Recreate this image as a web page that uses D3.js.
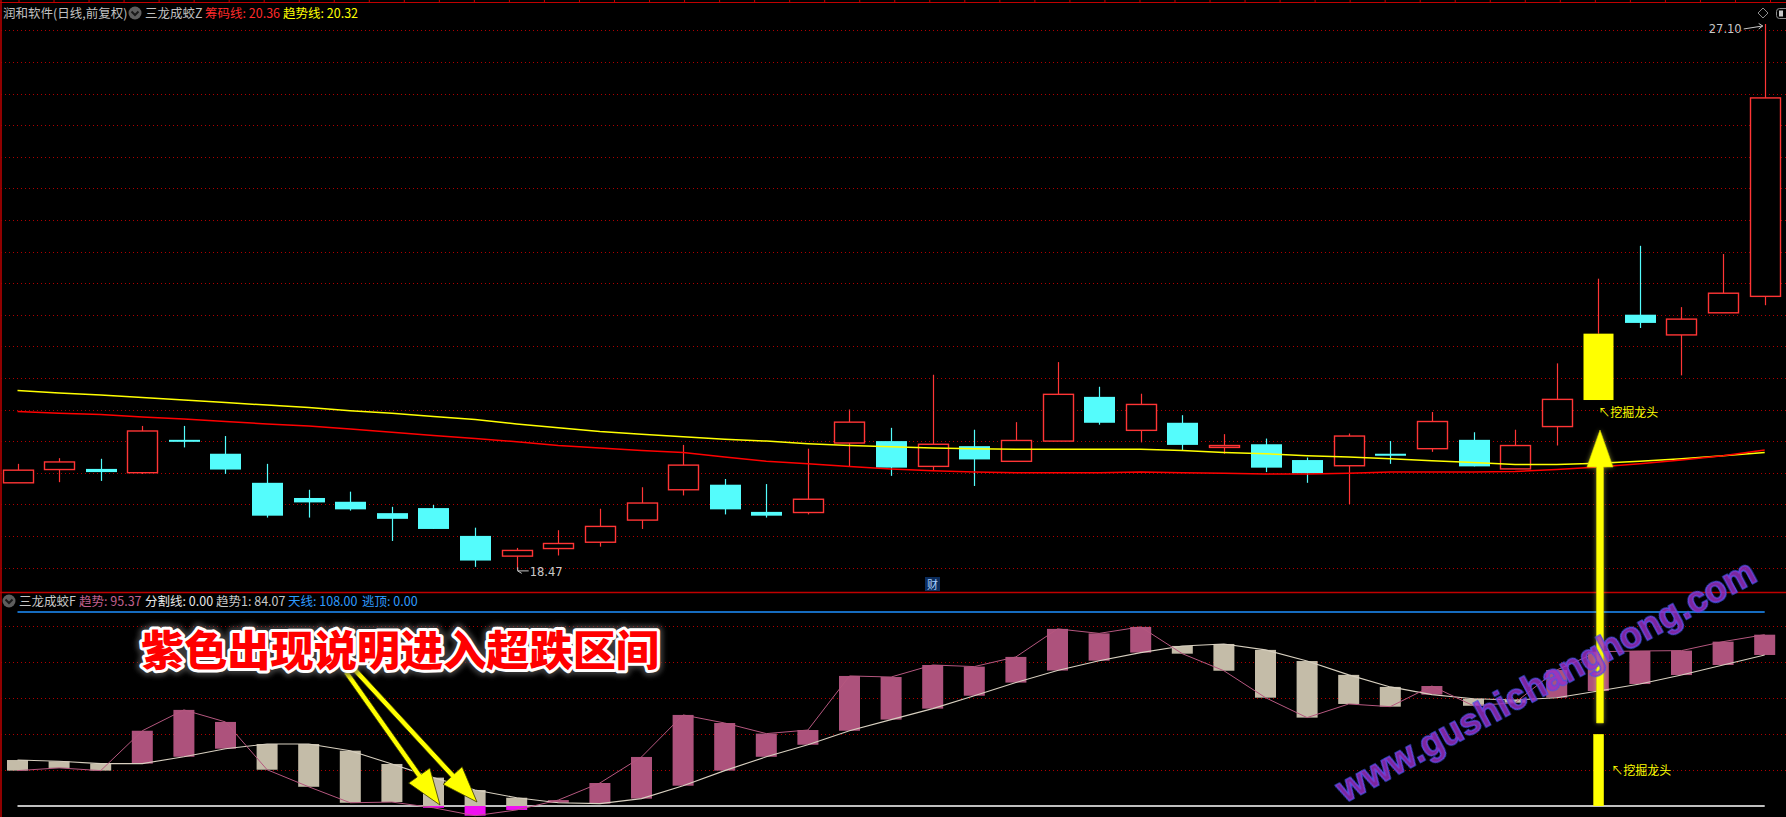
<!DOCTYPE html>
<html><head><meta charset="utf-8">
<script src="https://cdn.jsdelivr.net/npm/d3@7/dist/d3.min.js"></script>
<style>html,body{margin:0;padding:0;background:#000;overflow:hidden}svg{display:block}</style>
</head><body>
<svg id="c" width="1786" height="817"></svg>
<script>
// ---- upper panel: daily K-line (润和软件, 前复权) ----
const opens  = [19.84,20.05,20.06,20.00,20.52,20.30,19.84,19.60,19.54,19.36,19.44,19.00,18.68,18.80,18.90,19.25,19.73,19.81,19.38,19.37,20.47,20.50,20.10,20.42,20.18,20.50,21.20,20.67,20.79,20.40,20.45,20.20,20.11,20.30,20.38,20.52,20.06,20.73,21.15,22.50,22.18,22.53,22.79];
const highs  = [20.14,20.23,20.22,20.74,20.74,20.58,20.14,19.73,19.70,19.46,19.49,19.13,18.81,19.09,19.43,19.77,20.44,19.90,19.82,20.38,21.00,20.71,21.55,20.68,20.80,21.75,21.36,21.25,20.91,20.61,20.54,20.24,20.62,20.50,20.96,20.64,20.68,21.73,23.07,23.59,22.62,23.46,27.10];
const lows   = [19.84,19.85,19.87,19.98,20.40,19.98,19.29,19.29,19.40,18.92,19.11,18.51,18.47,18.69,18.83,19.11,19.64,19.34,19.29,19.34,20.10,19.95,20.03,19.79,20.18,20.50,20.76,20.48,20.36,20.30,20.01,19.84,19.50,20.14,20.33,20.10,20.06,20.43,21.15,22.29,21.54,22.53,22.65];
const closes = [20.04,20.17,20.01,20.66,20.51,20.05,19.32,19.53,19.42,19.27,19.11,18.61,18.77,18.88,19.15,19.52,20.12,19.42,19.32,19.58,20.80,20.08,20.45,20.21,20.51,21.24,20.79,21.08,20.44,20.43,20.08,19.99,20.58,20.29,20.81,20.10,20.43,21.16,22.20,22.37,22.43,22.84,25.93];
// 趋势线 (yellow) and 筹码线 (red)
const trendLine = [21.30,21.26,21.23,21.19,21.15,21.11,21.07,21.03,20.98,20.94,20.89,20.84,20.77,20.71,20.65,20.61,20.57,20.53,20.50,20.46,20.43,20.41,20.39,20.38,20.37,20.37,20.37,20.37,20.35,20.32,20.30,20.27,20.25,20.22,20.19,20.16,20.13,20.13,20.15,20.18,20.22,20.27,20.32];
const chipLine  = [20.97,20.94,20.92,20.88,20.85,20.81,20.77,20.74,20.69,20.64,20.59,20.54,20.49,20.43,20.39,20.35,20.32,20.25,20.18,20.14,20.10,20.06,20.03,20.01,20.00,20.00,20.00,20.01,20.00,19.99,19.98,19.98,19.99,20.01,20.01,20.01,20.02,20.05,20.09,20.14,20.20,20.27,20.36];
const priceGrid = [18.5,19,19.5,20,20.5,21,21.5,22,22.5,23,23.5,24,24.5,25,25.5,26,26.5,27];
const signalIdx = [38];
// ---- lower panel: 三龙成蛟F ----
const trendF  = [19.7,21.2,19.7,41.9,53.5,46.8,20.2,10.7,1.8,2.2,-1.0,-5.4,-2.2,3.3,12.8,27.3,50.7,46.2,40.3,42.3,72.4,71.8,78.5,77.6,83.0,98.6,96.1,99.7,84.8,75.3,60.3,49.2,56.8,55.3,66.8,55.8,57.5,75.7,85.9,86.3,86.5,91.5,95.37];
const trendF1 = [25.6,24.9,23.6,23.6,27.4,31.9,34.5,34.5,30.8,23.4,15.8,8.9,4.6,1.8,1.3,4.1,11.3,19.7,27.4,34.1,41.9,48.1,54.2,61.4,68.7,75.4,80.9,85.4,89.1,90.2,86.9,80.7,73.0,66.3,62.0,59.7,59.0,60.3,64.0,67.9,72.9,78.5,84.07];
const lowerGrid = [20,40,60,80,100];
const skyLine = 108, splitLine = 0, signalBar = 40;

const W = 1786, H = 817;
const svg = d3.select('#c');
svg.append('rect').attr('width', W).attr('height', H).attr('fill', '#000');

const defs = svg.append('defs');
const glow = defs.append('filter').attr('id','glow').attr('x','-20%').attr('y','-20%').attr('width','140%').attr('height','140%');
glow.append('feGaussianBlur').attr('stdDeviation', 2.5);
const blur1 = defs.append('filter').attr('id','soft');
blur1.append('feGaussianBlur').attr('stdDeviation', 0.5);

const idx = d3.range(opens.length);
const x = d3.scaleLinear().domain([0, opens.length - 1]).range([17.5, 1764.7]);
const yP = d3.scaleLinear().domain([18.5, 27]).range([567.5, 30.3]);
const yF = d3.scaleLinear().domain([0, 108]).range([806, 612]);

const FONT = '"Noto Sans CJK SC","DejaVu Sans",sans-serif';

// ---- borders ----
svg.append('line').attr('x1',0).attr('x2',W).attr('y1',2.5).attr('y2',2.5).attr('stroke','#c00000').attr('stroke-width',1.2);
svg.append('g').selectAll('line').data(d3.range(0, 51)).join('line')
  .attr('x1', k => 19 + 35.03 * k).attr('x2', k => 19 + 35.03 * k)
  .attr('y1', 0).attr('y2', 3).attr('stroke', '#c00000');
svg.append('line').attr('x1',1).attr('x2',1).attr('y1',0).attr('y2',H).attr('stroke','#c00000').attr('stroke-width',1.5);
svg.append('line').attr('x1',0).attr('x2',W).attr('y1',592.5).attr('y2',592.5).attr('stroke','#c00000').attr('stroke-width',1.5);

// ---- grids via axes ----
function grid(scale, vals) {
  const g = svg.append('g').attr('transform', `translate(${W},0)`)
    .call(d3.axisLeft(scale).tickValues(vals).tickSize(W).tickFormat(''));
  g.select('.domain').remove();
  g.selectAll('line').attr('stroke', '#b00000').attr('stroke-dasharray', '1,3').attr('shape-rendering','crispEdges');
}
grid(yP, priceGrid);
grid(yF, lowerGrid);

// ---- candles ----
const BW = 30;
const cg = svg.append('g');
const cdata = idx.map(i => ({i, o: opens[i], h: highs[i], l: lows[i], c: closes[i], sig: signalIdx.includes(i)}));
const RED = '#ff3535', CYAN = '#54fcfc';
cdata.forEach(d => {
  const cx = Math.round(x(d.i)) + 0.5;
  const up = d.c >= d.o;
  const top = yP(Math.max(d.o, d.c)), bot = yP(Math.min(d.o, d.c));
  if (d.sig) {
    cg.append('line').attr('x1',cx).attr('x2',cx).attr('y1',yP(d.h)).attr('y2',top).attr('stroke',RED).attr('stroke-width',1.2);
    cg.append('rect').attr('x', cx - BW/2).attr('y', top).attr('width', BW).attr('height', bot - top).attr('fill', '#ffff00');
  } else if (up) {
    cg.append('line').attr('x1',cx).attr('x2',cx).attr('y1',yP(d.h)).attr('y2',top).attr('stroke',RED).attr('stroke-width',1.2);
    cg.append('line').attr('x1',cx).attr('x2',cx).attr('y1',bot).attr('y2',yP(d.l)).attr('stroke',RED).attr('stroke-width',1.2);
    cg.append('rect').attr('x', cx - BW/2).attr('y', top).attr('width', BW).attr('height', Math.max(bot - top, 1))
      .attr('fill', '#000').attr('stroke', RED).attr('stroke-width', 1.4);
  } else {
    cg.append('line').attr('x1',cx).attr('x2',cx).attr('y1',yP(d.h)).attr('y2',yP(d.l)).attr('stroke',CYAN).attr('stroke-width',1.2);
    cg.append('rect').attr('x', cx - BW/2 - 0.5).attr('y', top).attr('width', BW + 1).attr('height', Math.max(bot - top, 2))
      .attr('fill', CYAN);
  }
});

// ---- moving lines ----
const lineP = arr => d3.line().x((v, i) => x(i)).y(v => yP(v))(arr);
svg.append('path').attr('d', lineP(trendLine)).attr('fill','none').attr('stroke','#ffff00').attr('stroke-width',1.5);
svg.append('path').attr('d', lineP(chipLine)).attr('fill','none').attr('stroke','#ff0000').attr('stroke-width',1.5);

// ---- price extreme labels ----
const hiI = highs.indexOf(d3.max(highs)), loI = lows.indexOf(d3.min(lows));
const hx = x(hiI), hy = yP(highs[hiI]);
svg.append('text').attr('x', hx - 23).attr('y', hy + 9.5).attr('text-anchor','end').attr('fill','#c8c8c8')
  .attr('font-family', '"DejaVu Sans",sans-serif').attr('font-size', 11.5).text(d3.format('.2f')(highs[hiI]));
svg.append('path').attr('d', `M${hx-21},${hy+5} L${hx-2},${hy+2} M${hx-6},${hy-0.5} L${hx-2},${hy+2} L${hx-6},${hy+5}`)
  .attr('stroke','#c8c8c8').attr('fill','none').attr('stroke-width',1);
const lx = x(loI), ly = yP(lows[loI]);
svg.append('path').attr('d', `M${lx+12},${ly+1.5} L${lx+1},${ly+1.5} M${lx+1},${ly-2} L${lx+1},${ly+1.5} L${lx+5},${ly+4}`)
  .attr('stroke','#c8c8c8').attr('fill','none').attr('stroke-width',1);
svg.append('text').attr('x', lx + 13).attr('y', ly + 7).attr('fill','#c8c8c8')
  .attr('font-family', '"DejaVu Sans",sans-serif').attr('font-size', 11.5).text(d3.format('.2f')(lows[loI]));

// 财 badge
svg.append('rect').attr('x', 925).attr('y', 577).attr('width', 15).attr('height', 14).attr('fill', '#0b2c5c');
svg.append('text').attr('x', 932.5).attr('y', 588.5).attr('text-anchor','middle').attr('fill','#a8cfff')
  .attr('font-family', FONT).attr('font-size', 11).text('财');

// top-right icons
svg.append('path').attr('d','M1763,8 L1768,13 L1763,18 L1758,13Z').attr('fill','none').attr('stroke','#8c8c8c');
svg.append('rect').attr('x',1776.5).attr('y',8.5).attr('width',14).attr('height',10).attr('rx',3).attr('fill','none').attr('stroke','#8c8c8c');
svg.append('rect').attr('x',1779).attr('y',10.5).attr('width',4).attr('height',6).attr('fill','#c8c8c8');

// ---- header texts ----
function header(y, items) {
  items.forEach(it => {
    svg.append('text').attr('x', it.x).attr('y', y).attr('fill', it.c)
      .attr('font-family', FONT).attr('font-size', 12.5).text(it.t);
  });
}
function icon(cx, cy) {
  svg.append('circle').attr('cx', cx).attr('cy', cy).attr('r', 6.5).attr('fill', '#5e5e5e');
  svg.append('path').attr('d', `M${cx-3.5},${cy-1.5} L${cx},${cy+2} L${cx+3.5},${cy-1.5}`).attr('fill','none').attr('stroke','#1a1a1a').attr('stroke-width',2);
}
header(18, [
  {x: 3, t: '润和软件(日线,前复权)', c: '#c0c0c0'},
  {x: 145, t: '三龙成蛟Z', c: '#c0c0c0'},
  {x: 205, t: '筹码线: ' + d3.format('.2f')(chipLine[chipLine.length-1]), c: '#ff2a2a'},
  {x: 283, t: '趋势线: ' + d3.format('.2f')(trendLine[trendLine.length-1]), c: '#ffff00'}
]);
icon(135, 13);
header(606, [
  {x: 19, t: '三龙成蛟F', c: '#c8c8c8'},
  {x: 79, t: '趋势: ' + d3.format('.2f')(trendF[trendF.length-1]), c: '#c2608f'},
  {x: 145, t: '分割线: ' + d3.format('.2f')(splitLine), c: '#e8e8e8'},
  {x: 216, t: '趋势1: ' + d3.format('.2f')(trendF1[trendF1.length-1]), c: '#c8c8c8'},
  {x: 288, t: '天线: ' + d3.format('.2f')(skyLine), c: '#2e9bff'},
  {x: 362, t: '逃顶: 0.00', c: '#2e9bff'}
]);
icon(9, 601);

// ---- lower panel ----
svg.append('line').attr('x1', x(0)).attr('x2', x(idx.length-1)).attr('y1', yF(skyLine)).attr('y2', yF(skyLine)).attr('stroke', '#1e90ff').attr('stroke-width', 1.5);
svg.append('line').attr('x1', x(0)).attr('x2', x(idx.length-1)).attr('y1', yF(splitLine)).attr('y2', yF(splitLine)).attr('stroke', '#ffffff').attr('stroke-width', 1.5);

const FW = 21;
const PINK = '#ad527c', BEIGE = '#c4bca8', MAG = '#f010f0';
const fg = svg.append('g');
idx.forEach(i => {
  const t = trendF[i], t1 = trendF1[i];
  const cx = x(i);
  const top = Math.max(t, t1), bot = Math.max(Math.min(t, t1), 0);
  if (top > bot) {
    fg.append('rect').attr('x', cx - FW/2).attr('y', yF(top)).attr('width', FW).attr('height', yF(bot) - yF(top))
      .attr('fill', t >= t1 ? PINK : BEIGE);
  }
  if (t < 0) {
    fg.append('rect').attr('x', cx - FW/2).attr('y', yF(0)).attr('width', FW).attr('height', yF(t) - yF(0)).attr('fill', MAG);
  }
});
const lineF = arr => d3.line().x((v, i) => x(i)).y(v => yF(v))(arr);
svg.append('path').attr('d', lineF(trendF1)).attr('fill','none').attr('stroke','#d8d0c0').attr('stroke-width',1.1);
svg.append('path').attr('d', lineF(trendF)).attr('fill','none').attr('stroke','#b5577f').attr('stroke-width',1);

// signal bar
signalIdx.forEach(i => {
  svg.append('rect').attr('x', x(i) - 5).attr('y', yF(signalBar)).attr('width', 10.5).attr('height', yF(0) - yF(signalBar)).attr('fill', '#ffff00');
  svg.append('text').attr('x', x(i) + 13).attr('y', yF(20) + 5).attr('fill', '#ffff00').attr('font-family', FONT).attr('font-size', 12).text('↖挖掘龙头');
  svg.append('text').attr('x', x(i)).attr('y', yP(Math.min(opens[i], closes[i])) + 17).attr('fill', '#ffff00').attr('font-family', FONT).attr('font-size', 12).text('↖挖掘龙头');
});

// ---- annotation arrows ----
function arrowPts(x1, y1, x2, y2, sw, hl, hw) {
  const dx = x2 - x1, dy = y2 - y1, L = Math.hypot(dx, dy);
  const ux = dx / L, uy = dy / L, px = -uy, py = ux;
  const bx = x2 - ux * hl, by = y2 - uy * hl;
  const p = [
    [x1 + px*sw/2, y1 + py*sw/2], [bx + px*sw/2, by + py*sw/2], [bx + px*hw, by + py*hw], [x2, y2],
    [bx - px*hw, by - py*hw], [bx - px*sw/2, by - py*sw/2], [x1 - px*sw/2, y1 - py*sw/2]
  ];
  return p.map(q => q.join(',')).join(' ');
}
const ag = svg.append('g');
[[346, 672, 440, 805], [355, 670, 477, 802]].forEach(a => {
  ag.append('polygon').attr('points', arrowPts(a[0], a[1], a[2], a[3], 5, 36, 13))
    .attr('fill', '#ffff00').attr('stroke', '#3a3a00').attr('stroke-width', 0.8);
});
// big vertical arrow
const va = [1600, 723, 1600, 430];
svg.append('polygon').attr('points', arrowPts(va[0], va[1], va[2], va[3], 7, 37, 13))
  .attr('fill', '#ffff66').attr('opacity', 0.5).attr('filter', 'url(#glow)');
svg.append('polygon').attr('points', arrowPts(va[0], va[1], va[2], va[3], 7, 37, 13))
  .attr('fill', '#ffff00').attr('stroke', '#cccc00').attr('stroke-width', 0.6);

// ---- big annotation text ----
const note = '紫色出现说明进入超跌区间';
svg.append('text').attr('x', 141).attr('y', 666).attr('font-family', FONT).attr('font-weight', 900).attr('font-size', 42)
  .attr('textLength', 518).attr('lengthAdjust', 'spacingAndGlyphs')
  .attr('fill', '#000').attr('stroke', '#555').attr('stroke-width', 12).attr('stroke-linejoin','round').attr('opacity', 0.7).attr('filter','url(#glow)').text(note);
svg.append('text').attr('x', 141).attr('y', 666).attr('font-family', FONT).attr('font-weight', 900).attr('font-size', 42)
  .attr('textLength', 518).attr('lengthAdjust', 'spacingAndGlyphs')
  .attr('fill', '#ff0000').attr('stroke', '#ffffff').attr('stroke-width', 6).attr('stroke-linejoin','round')
  .attr('paint-order', 'stroke').text(note);

// ---- watermark ----
svg.append('text').attr('transform', 'translate(1345,803) rotate(-28.3)')
  .attr('font-family', '"Liberation Sans",Arial,sans-serif').attr('font-weight', 700).attr('font-size', 36)
  .attr('textLength', 470).attr('lengthAdjust', 'spacingAndGlyphs')
  .attr('fill', '#9a2fc4').attr('fill-opacity', 0.8).attr('stroke', '#3d55e8').attr('stroke-width', 1.6)
  .attr('paint-order', 'stroke').attr('filter', 'url(#soft)').text('www.gushichanghong.com');
</script>
</body></html>
